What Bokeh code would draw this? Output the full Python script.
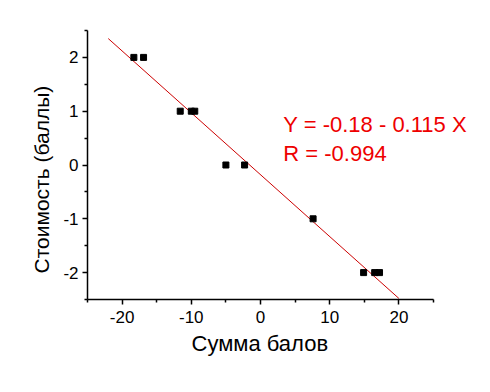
from bokeh.plotting import figure
from bokeh.models import Range1d, Label, FixedTicker, Title
from bokeh.embed import file_html
from bokeh.resources import INLINE

# data
score_sum = [-18.3, -16.9, -11.6, -10.0, -9.5, -5.0, -2.3, 7.6, 14.9, 16.5, 17.2]
cost = [2, 2, 1, 1, 1, 0, 0, -1, -2, -2, -2]
fit_intercept = -0.18
fit_slope = -0.115
fit_r = -0.994
fit_x = [-22.0, 20.0]
fit_y = [fit_intercept + fit_slope * v for v in fit_x]
x_ticks = [-20, -10, 0, 10, 20]
y_ticks = [-2, -1, 0, 1, 2]
x_lim = (-25, 25)
y_lim = (-2.5, 2.5)
x_label = "Сумма балов"
y_label = "Стоимость (баллы)"

FONT = "Liberation Sans"

# axis box is 346 px wide; the frame extends further right so the red text is not clipped
AXIS_W = 346
FRAME_W = 393
x_end = x_lim[0] + (x_lim[1] - x_lim[0]) * FRAME_W / AXIS_W

p = figure(width=490, height=392, output_backend="svg", toolbar_location=None,
           x_range=Range1d(x_lim[0], x_end), y_range=Range1d(*y_lim),
           min_border_left=87, min_border_right=490 - 87 - FRAME_W,
           min_border_top=30, min_border_bottom=93)
p.outline_line_color = None
p.grid.visible = False
p.background_fill_color = "white"
p.border_fill_color = "white"

p.line(fit_x, fit_y, line_color="#cc0000", line_width=1)
p.scatter(score_sum, cost, marker="square", size=6, fill_color="black", line_color="black")

p.xaxis.bounds = x_lim
p.xaxis.ticker = FixedTicker(ticks=x_ticks, minor_ticks=[-25, -15, -5, 5, 15, 25])
p.yaxis.ticker = FixedTicker(ticks=y_ticks, minor_ticks=[-2.5, -1.5, -0.5, 0.5, 1.5, 2.5])
p.xaxis.major_label_overrides = {t: str(t) for t in x_ticks}
p.yaxis.major_label_overrides = {t: str(t) for t in y_ticks}
for ax in (p.xaxis, p.yaxis):
    ax.axis_line_color = "black"
    ax.axis_line_width = 1.5
    ax.major_tick_line_color = "black"
    ax.minor_tick_line_color = "black"
    ax.major_tick_line_width = 1.5
    ax.minor_tick_line_width = 1.5
    ax.major_tick_out = 5
    ax.major_tick_in = 0
    ax.minor_tick_out = 3
    ax.minor_tick_in = 0
    ax.major_label_text_font = FONT
    ax.major_label_text_font_size = "17px"
    ax.major_label_text_color = "black"
p.xaxis.major_label_standoff = 6
p.yaxis.major_label_standoff = 4

# axis titles placed as in the reference (x centred under the axis line, y slightly low)
x_title = Title(text=x_label, align="left", offset=104, standoff=7,
                text_font=FONT, text_font_size="22px", text_font_style="normal",
                text_color="black")
p.add_layout(x_title, "below")
y_title = Title(text=y_label, align="left", offset=26, standoff=15,
                text_font=FONT, text_font_size="21px", text_font_style="normal",
                text_color="black")
p.add_layout(y_title, "left")

eq1 = Label(x=3.3, y=0.745, text=f"Y = {fit_intercept} - {abs(fit_slope)} X",
            text_font=FONT, text_font_size="22px", text_color="#ee0000",
            text_baseline="alphabetic")
eq2 = Label(x=3.3, y=0.22, text=f"R = {fit_r}",
            text_font=FONT, text_font_size="22px", text_color="#ee0000",
            text_baseline="alphabetic")
p.add_layout(eq1)
p.add_layout(eq2)

open("out.html", "w").write(file_html(p, INLINE))
